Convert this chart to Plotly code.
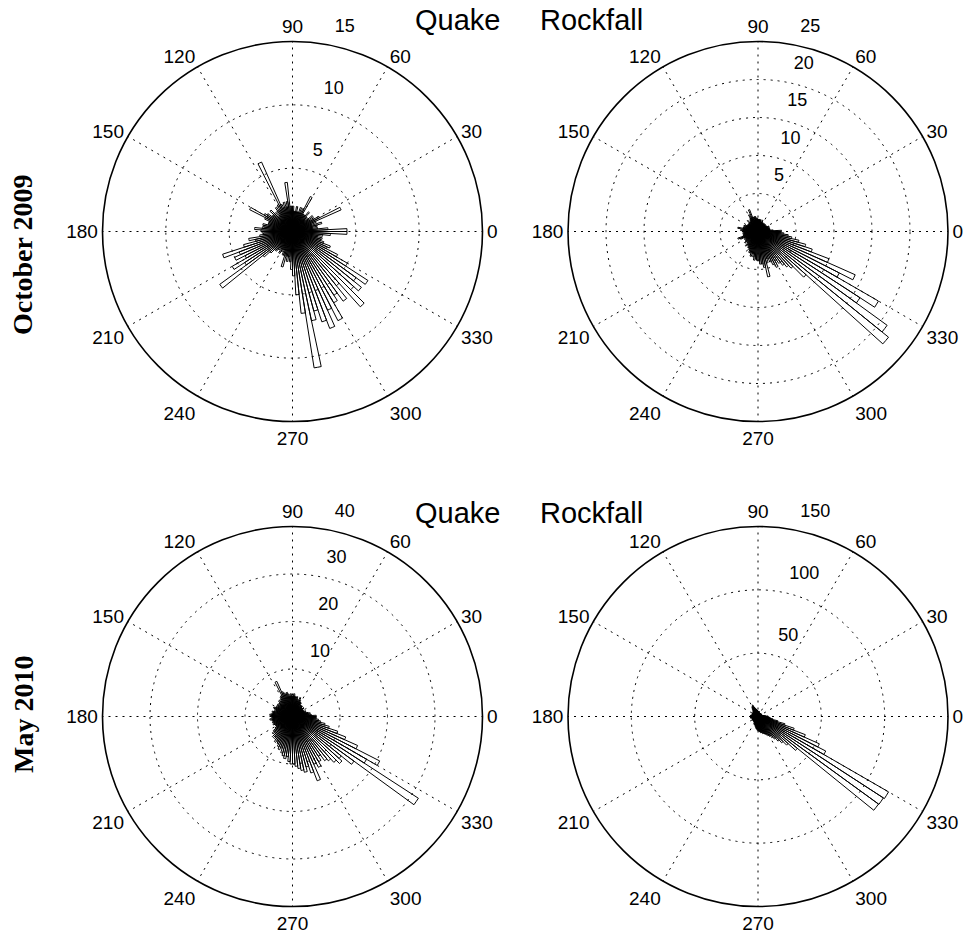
import plotly.graph_objects as go

# bin centres (3-degree bins)
bin_deg = [1.5 + 3 * i for i in range(120)]

quake_oct2009 = [
    4.3, 2.8, 2.0, 1.6, 2.0, 2.4, 1.6, 2.0, 4.2, 2.4,
    2.0, 1.6, 2.0, 1.6, 1.3, 1.6, 2.0, 1.6, 1.6, 1.6,
    3.1, 2.0, 1.6, 2.0, 1.6, 1.6, 2.0, 1.6, 1.6, 2.0,
    2.0, 2.0, 3.9, 2.4, 2.0, 2.4, 2.0, 2.3, 6.0, 2.4,
    2.0, 2.3, 2.0, 1.6, 2.0, 2.4, 2.0, 2.0, 2.4, 2.6,
    3.8, 2.4, 2.0, 2.0, 2.0, 2.4, 2.3, 2.4, 3.0, 2.5,
    2.4, 2.3, 2.6, 3.5, 3.0, 4.0, 5.8, 4.5, 5.0, 4.2,
    5.5, 4.5, 7.1, 3.0, 2.4, 2.0, 2.0, 1.8, 1.6, 2.0,
    1.8, 1.6, 2.0, 2.0, 2.9, 2.0, 2.4, 2.0, 2.4, 3.0,
    3.5, 5.0, 6.5, 10.9, 7.2, 6.5, 7.5, 8.2, 6.8, 7.9,
    6.5, 6.0, 6.8, 5.5, 8.0, 6.5, 7.0, 6.2, 7.1, 5.0,
    4.0, 3.0, 3.2, 2.6, 2.3, 2.4, 2.0, 2.4, 3.0, 4.3,
]

rockfall_oct2009 = [
    3.1, 2.0, 1.6, 1.6, 1.5, 1.6, 1.3, 1.5, 1.6, 1.3,
    1.3, 1.3, 1.1, 1.3, 1.3, 1.1, 1.3, 1.3, 1.1, 1.3,
    1.3, 1.3, 1.6, 1.3, 1.3, 1.6, 1.5, 1.6, 1.6, 1.6,
    1.6, 1.8, 1.6, 2.0, 2.0, 1.6, 2.0, 3.1, 2.0, 2.5,
    2.0, 1.8, 1.6, 1.6, 2.0, 1.6, 1.6, 1.5, 1.6, 1.6,
    1.6, 1.8, 2.0, 1.6, 2.0, 2.0, 2.7, 2.0, 2.3, 2.0,
    2.0, 1.8, 2.0, 1.8, 2.0, 2.0, 2.8, 2.5, 2.0, 1.8,
    1.8, 2.0, 2.0, 2.3, 2.0, 2.0, 2.5, 2.0, 2.3, 2.5,
    2.5, 2.7, 3.0, 3.0, 3.4, 3.0, 3.4, 3.8, 3.6, 3.8,
    3.8, 4.3, 4.3, 4.8, 6.1, 4.3, 3.8, 4.3, 4.8, 5.3,
    4.5, 5.0, 5.5, 6.0, 6.5, 8.5, 22.1, 21.0, 16.0, 18.3,
    12.0, 14.0, 10.0, 7.5, 6.5, 5.5, 4.5, 4.0, 3.4, 3.0,
]

quake_may2010 = [
    5.0, 4.0, 3.4, 3.8, 3.4, 3.0, 2.6, 3.0, 2.6, 2.6,
    2.6, 2.6, 3.0, 2.6, 2.6, 3.0, 2.6, 3.0, 2.6, 3.4,
    3.4, 3.8, 4.3, 3.4, 3.8, 4.3, 3.8, 4.3, 4.8, 4.3,
    4.3, 4.8, 4.3, 4.8, 5.2, 4.8, 5.2, 5.6, 8.1, 5.0,
    4.8, 4.4, 4.0, 4.4, 4.0, 3.6, 4.0, 4.0, 3.6, 4.0,
    4.0, 4.4, 4.0, 3.6, 4.0, 4.4, 4.0, 4.4, 4.8, 4.4,
    4.4, 4.0, 4.8, 4.4, 4.0, 4.4, 4.0, 4.4, 4.0, 4.0,
    4.0, 4.4, 5.0, 5.5, 5.0, 6.0, 5.5, 6.0, 6.5, 6.0,
    6.5, 7.0, 7.5, 7.0, 8.0, 8.5, 9.0, 8.5, 9.5, 10.0,
    10.0, 10.5, 11.0, 11.5, 12.0, 11.0, 12.5, 14.5, 11.0, 12.0,
    11.0, 10.0, 11.5, 12.0, 13.0, 14.0, 13.2, 16.0, 31.6, 18.0,
    20.6, 15.0, 12.0, 10.0, 8.0, 7.0, 6.0, 5.5, 5.0, 5.0,
]

rockfall_may2010 = [
    8, 6, 5, 4, 4, 3, 3, 3, 3, 3,
    3, 3, 3, 3, 3, 3, 3, 3, 3, 3,
    3, 3, 3, 3, 3, 4, 4, 4, 4, 4,
    4, 5, 5, 5, 6, 6, 7, 8, 10, 9,
    9, 8, 7, 6, 6, 5, 5, 5, 5, 5,
    5, 5, 5, 5, 5, 5, 5, 6, 6, 6,
    6, 6, 6, 6, 5, 5, 5, 5, 5, 5,
    5, 5, 5, 5, 5, 5, 5, 5, 5, 6,
    6, 6, 7, 7, 8, 8, 9, 10, 10, 11,
    11, 12, 12, 13, 13, 14, 14, 15, 16, 17,
    18, 20, 22, 25, 28, 32, 40, 117.6, 118, 119,
    60, 53, 40, 30, 22, 16, 12, 10, 9, 8,
]

angle_ticks = list(range(0, 360, 30))
angle_labels = [str(a) for a in angle_ticks]

panels = [
    ("polar", quake_oct2009, [5, 10, 15]),
    ("polar2", rockfall_oct2009, [5, 10, 15, 20, 25]),
    ("polar3", quake_may2010, [10, 20, 30, 40]),
    ("polar4", rockfall_may2010, [50, 100, 150]),
]

W, H = 970, 939
R = 190
centres = {"polar": (292.5, 231.5), "polar2": (758, 231.5),
           "polar3": (292.5, 716.5), "polar4": (758, 716.5)}

fig = go.Figure()
for name, vals, rings in panels:
    fig.add_trace(go.Barpolar(
        r=vals, theta=bin_deg, width=3, subplot=name,
        marker=dict(color="rgba(255,255,255,0)", line=dict(color="black", width=1)),
        showlegend=False,
    ))
    cx, cy = centres[name]
    dom = dict(x=[(cx - R) / W, (cx + R) / W], y=[(H - cy - R) / H, (H - cy + R) / H])
    fig.update_layout(**{name: dict(
        domain=dom,
        bgcolor="white",
        angularaxis=dict(
            direction="counterclockwise", rotation=0,
            tickmode="array", tickvals=angle_ticks, ticktext=angle_labels,
            showline=True, linecolor="black", linewidth=1.6,
            showgrid=True, gridcolor="black", griddash="2px,5px", gridwidth=1.3,
            ticks="", tickfont=dict(family="Liberation Sans", size=19, color="black"),
        ),
        radialaxis=dict(
            range=[0, rings[-1]], tickmode="array", tickvals=rings,
            # blank lines lift each label above its ring, as in the original
            ticktext=[f"{v}<br> <br> " for v in rings],
            angle=80, tickangle=80, side="clockwise",
            showline=False, ticks="",
            showgrid=True, gridcolor="black", griddash="2px,5px", gridwidth=1.3,
            tickfont=dict(family="Liberation Sans", size=18, color="black"),
        ),
    )})

title_font = dict(family="Liberation Sans", size=29, color="black")
row_font = dict(family="Liberation Serif", size=28, color="black")
fig.update_layout(
    width=W, height=H, autosize=False,
    margin=dict(l=0, r=0, t=0, b=0),
    paper_bgcolor="white",
    annotations=[
        dict(text="Quake", x=457 / W, y=1 - 20 / H, xref="paper", yref="paper",
             xanchor="center", yanchor="middle", showarrow=False, font=title_font),
        dict(text="Rockfall", x=591 / W, y=1 - 20 / H, xref="paper", yref="paper",
             xanchor="center", yanchor="middle", showarrow=False, font=title_font),
        dict(text="Quake", x=457 / W, y=1 - 513 / H, xref="paper", yref="paper",
             xanchor="center", yanchor="middle", showarrow=False, font=title_font),
        dict(text="Rockfall", x=591 / W, y=1 - 513 / H, xref="paper", yref="paper",
             xanchor="center", yanchor="middle", showarrow=False, font=title_font),
        dict(text="<b>October 2009</b>", x=23 / W, y=1 - 255 / H, xref="paper", yref="paper",
             xanchor="center", yanchor="middle", textangle=-90, showarrow=False, font=row_font),
        dict(text="<b>May 2010</b>", x=23 / W, y=1 - 715 / H, xref="paper", yref="paper",
             xanchor="center", yanchor="middle", textangle=-90, showarrow=False, font=row_font),
    ],
)

fig.write_html("out.html")
